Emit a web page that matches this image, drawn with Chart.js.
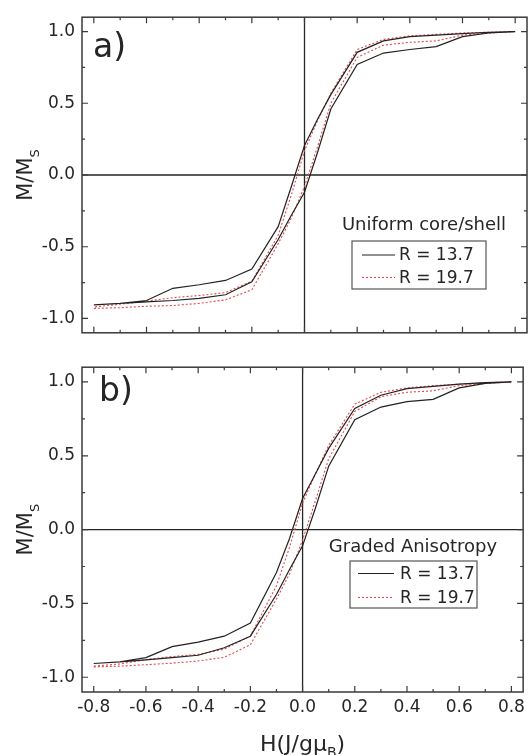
<!DOCTYPE html>
<html>
<head>
<meta charset="utf-8">
<script src="https://cdn.jsdelivr.net/npm/chart.js@4.4.0/dist/chart.umd.min.js"></script>
<style>
  body { margin: 0; background: #fff; }
  #wrap { position: relative; width: 530px; height: 755px; }
  canvas { position: absolute; left: 0; }
</style>
</head>
<body>
<div id="wrap">
  <canvas id="chart-a" width="530" height="350" style="top:0px"></canvas>
  <canvas id="chart-b" width="530" height="405" style="top:350px"></canvas>
</div>
<script>
// field values (both branches use the same grid)
var H = [-0.8, -0.7, -0.6, -0.5, -0.4, -0.3, -0.2, -0.1, -0.05, 0, 0.05, 0.1, 0.2, 0.3, 0.4, 0.5, 0.6, 0.7, 0.8];

// a) uniform core/shell  ("inc" = field increasing, "dec" = field decreasing)
var aR137inc = [-0.905, -0.895, -0.885, -0.875, -0.86, -0.835, -0.745, -0.45, -0.28, -0.12, 0.16, 0.46, 0.77, 0.85, 0.875, 0.895, 0.965, 0.99, 1.0];
var aR137dec = [-0.905, -0.895, -0.875, -0.79, -0.765, -0.735, -0.655, -0.36, -0.08, 0.205, 0.39, 0.56, 0.855, 0.935, 0.965, 0.975, 0.985, 0.995, 1.0];
var aR197inc = [-0.93, -0.925, -0.915, -0.91, -0.895, -0.87, -0.8, -0.48, -0.3, -0.08, 0.2, 0.5, 0.82, 0.905, 0.925, 0.935, 0.975, 0.99, 1.0];
var aR197dec = [-0.92, -0.9, -0.88, -0.855, -0.84, -0.82, -0.74, -0.42, -0.14, 0.17, 0.38, 0.57, 0.875, 0.945, 0.97, 0.98, 0.99, 0.995, 1.0];

// b) graded anisotropy
var bR137inc = [-0.907, -0.896, -0.882, -0.867, -0.851, -0.8, -0.722, -0.44, -0.27, -0.11, 0.15, 0.43, 0.745, 0.83, 0.867, 0.882, 0.96, 0.99, 1.0];
var bR137dec = [-0.907, -0.895, -0.867, -0.793, -0.762, -0.722, -0.633, -0.29, -0.06, 0.21, 0.38, 0.55, 0.82, 0.91, 0.955, 0.97, 0.985, 0.995, 1.0];
var bR197inc = [-0.93, -0.925, -0.915, -0.905, -0.89, -0.865, -0.78, -0.47, -0.3, -0.07, 0.2, 0.48, 0.8, 0.9, 0.93, 0.94, 0.975, 0.99, 1.0];
var bR197dec = [-0.925, -0.91, -0.88, -0.86, -0.845, -0.81, -0.72, -0.38, -0.12, 0.18, 0.38, 0.57, 0.85, 0.93, 0.96, 0.975, 0.985, 0.995, 1.0];

var seriesLabels = ["R = 13.7", "R = 19.7"];
var xTicks = [-0.8, -0.6, -0.4, -0.2, 0, 0.2, 0.4, 0.6, 0.8];
var xMinor = [-0.7, -0.5, -0.3, -0.1, 0.1, 0.3, 0.5, 0.7];
var yTicks = [-1.0, -0.5, 0, 0.5, 1.0];
var yMinor = [-0.75, -0.25, 0.25, 0.75];

var FONT = '"DejaVu Sans", sans-serif';
var INK = "#262626";

// one closed loop: up the increasing branch, back along the decreasing one
function loop(inc, dec) {
  var pts = [];
  for (var i = 0; i < H.length; i++) pts.push({ x: H[i], y: inc[i] });
  for (var j = H.length - 1; j >= 0; j--) pts.push({ x: H[j], y: dec[j] });
  return pts;
}

var frame = {
  id: "frame",
  beforeDatasetsDraw: function (chart) {
    var ctx = chart.ctx, a = chart.chartArea;
    var x0 = chart.scales.x.getPixelForValue(0);
    var y0 = chart.scales.y.getPixelForValue(0);
    ctx.save();
    ctx.strokeStyle = INK;
    ctx.lineWidth = 1.3;
    ctx.beginPath();
    ctx.moveTo(x0, a.top); ctx.lineTo(x0, a.bottom);
    ctx.moveTo(a.left, y0); ctx.lineTo(a.right, y0);
    ctx.stroke();
    ctx.restore();
  },
  afterDatasetsDraw: function (chart, args, o) {
    var ctx = chart.ctx, a = chart.chartArea;
    var sx = chart.scales.x, sy = chart.scales.y;
    ctx.save();
    // box
    ctx.strokeStyle = "#3a3a3a";
    ctx.lineWidth = 1.5;
    ctx.strokeRect(a.left, a.top, a.right - a.left, a.bottom - a.top);
    // inward ticks on all four sides
    ctx.lineWidth = 1.2;
    ctx.beginPath();
    function xt(v, len) {
      var p = sx.getPixelForValue(v);
      ctx.moveTo(p, a.bottom); ctx.lineTo(p, a.bottom - len);
      ctx.moveTo(p, a.top); ctx.lineTo(p, a.top + len);
    }
    function yt(v, len) {
      var p = sy.getPixelForValue(v);
      ctx.moveTo(a.left, p); ctx.lineTo(a.left + len, p);
      ctx.moveTo(a.right, p); ctx.lineTo(a.right - len, p);
    }
    xTicks.forEach(function (v) { xt(v, 6); });
    xMinor.forEach(function (v) { xt(v, 3); });
    yTicks.forEach(function (v) { yt(v, 6); });
    yMinor.forEach(function (v) { yt(v, 3); });
    ctx.stroke();

    // legend
    ctx.fillStyle = INK;
    ctx.font = "18px " + FONT;
    ctx.textAlign = "center";
    ctx.textBaseline = "alphabetic";
    ctx.fillText(o.title, o.titleX, o.titleY);
    ctx.strokeStyle = "#555";
    ctx.lineWidth = 1.2;
    ctx.strokeRect(o.box[0], o.box[1], o.box[2], o.box[3]);
    ctx.font = "17px " + FONT;
    ctx.textAlign = "left";
    ctx.textBaseline = "middle";
    chart.data.datasets.forEach(function (ds, i) {
      var ry = o.rows[i];
      ctx.save();
      ctx.strokeStyle = ds.borderColor;
      ctx.lineWidth = ds.borderWidth;
      ctx.setLineDash(ds.borderDash || []);
      ctx.beginPath();
      ctx.moveTo(o.lineX[0], ry); ctx.lineTo(o.lineX[1], ry);
      ctx.stroke();
      ctx.restore();
      ctx.fillText(ds.label, o.textX, ry + 1);
    });

    // panel letter
    ctx.font = "33px " + FONT;
    ctx.textBaseline = "alphabetic";
    ctx.fillText(o.panel, o.panelX, o.panelY);

    // y title  M/M_S
    var cy = (a.top + a.bottom) / 2;
    ctx.save();
    ctx.translate(32, cy);
    ctx.rotate(-Math.PI / 2);
    ctx.font = "21px " + FONT;
    var w1 = ctx.measureText("M/M").width;
    ctx.font = "13px " + FONT;
    var w2 = ctx.measureText("S").width;
    var sx0 = -(w1 + w2) / 2;
    ctx.font = "21px " + FONT;
    ctx.fillText("M/M", sx0, 0);
    ctx.font = "13px " + FONT;
    ctx.fillText("S", sx0 + w1, 7);
    ctx.restore();

    // x title  H(J/g mu_B)
    if (o.xTitle) {
      var big = "22px " + FONT, small = "14px " + FONT;
      ctx.font = big;
      var p1 = "H(J/g\u03bc", p3 = ")";
      var t1 = ctx.measureText(p1).width, t3 = ctx.measureText(p3).width;
      ctx.font = small;
      var t2 = ctx.measureText("B").width;
      var cx = sx.getPixelForValue(0);
      var left = cx - (t1 + t2 + t3) / 2;
      ctx.font = big;
      ctx.fillText(p1, left, o.xTitleY);
      ctx.font = small;
      ctx.fillText("B", left + t1, o.xTitleY + 6);
      ctx.font = big;
      ctx.fillText(p3, left + t1 + t2, o.xTitleY);
    }
    ctx.restore();
  }
};

function makeChart(id, d137, d197, opt) {
  return new Chart(document.getElementById(id), {
    type: "line",
    data: {
      datasets: [
        {
          label: seriesLabels[0],
          data: d137,
          borderColor: "#222",
          borderWidth: 1.2,
          pointRadius: 0,
          fill: false,
          tension: 0
        },
        {
          label: seriesLabels[1],
          data: d197,
          borderColor: "#e2474b",
          borderWidth: 1.1,
          borderDash: [2, 2],
          pointRadius: 0,
          fill: false,
          tension: 0
        }
      ]
    },
    options: {
      responsive: false,
      animation: false,
      devicePixelRatio: 1,
      layout: { padding: { top: opt.padTop, right: 3, left: 0, bottom: 0 } },
      plugins: {
        legend: { display: false },
        tooltip: { enabled: false },
        frame: opt.frame
      },
      scales: {
        x: {
          type: "linear",
          min: -0.845,
          max: 0.845,
          grid: { display: false, drawTicks: false },
          border: { display: false },
          ticks: {
            display: opt.showX,
            autoSkip: false,
            maxRotation: 0,
            padding: 5,
            color: INK,
            font: { family: FONT, size: 17 },
            callback: function (v) { return v.toFixed(1); }
          },
          afterBuildTicks: function (s) { s.ticks = xTicks.map(function (v) { return { value: v }; }); },
          afterFit: function (s) { s.height = opt.xHeight; }
        },
        y: {
          type: "linear",
          min: -1.1,
          max: 1.1,
          grid: { display: false, drawTicks: false },
          border: { display: false },
          ticks: {
            padding: 7,
            color: INK,
            font: { family: FONT, size: 17 },
            callback: function (v) { return v.toFixed(1); }
          },
          afterBuildTicks: function (s) { s.ticks = yTicks.map(function (v) { return { value: v }; }); },
          afterFit: function (s) { s.width = 82; }
        }
      }
    },
    plugins: [frame]
  });
}

makeChart("chart-a", loop(aR137inc, aR137dec), loop(aR197inc, aR197dec), {
  padTop: 14,
  xHeight: 6,
  showX: false,
  frame: {
    title: "Uniform core/shell", titleX: 424, titleY: 230,
    box: [352, 241, 134, 48], rows: [255, 277.5], lineX: [362, 395], textX: 399,
    panel: "a)", panelX: 93, panelY: 57,
    xTitle: false
  }
});

makeChart("chart-b", loop(bR137inc, bR137dec), loop(bR197inc, bR197dec), {
  padTop: 12,
  xHeight: 63,
  showX: true,
  frame: {
    title: "Graded Anisotropy", titleX: 413, titleY: 202,
    box: [350, 211, 127, 47], rows: [223.5, 247.5], lineX: [358, 394], textX: 400,
    panel: "b)", panelX: 99, panelY: 51,
    xTitle: true, xTitleY: 401
  }
});
</script>
</body>
</html>
